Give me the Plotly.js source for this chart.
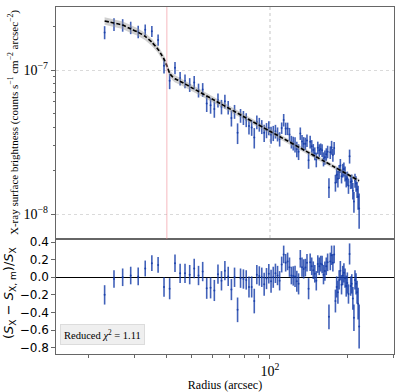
<!DOCTYPE html>
<html>
<head>
<meta charset="utf-8">
<script src="https://cdn.plot.ly/plotly-3.0.1.min.js"></script>
<style>
  body { margin: 0; background: #fff; }
  #chart { width: 402px; height: 392px; }
</style>
</head>
<body>
<div id="chart"></div>
<script>
// radius of each annulus (arcsec)
const radius = [23, 25, 27, 29, 31, 33, 35, 37, 39, 41, 43, 45, 47, 49, 51, 53, 55, 57, 59, 61,
  63, 65, 67, 69, 71, 73, 75, 77, 79, 81, 83, 85, 87, 89, 91, 93, 95, 97, 99, 101,
  103, 105, 107, 109, 111, 113, 115, 117, 119, 121, 123, 125, 127, 129, 131, 133, 135, 137, 139, 141,
  143, 145, 147, 149, 151, 153, 155, 157, 159, 161, 163, 165, 167, 169, 171, 173, 175, 177, 179, 181,
  183, 185, 187, 189, 191, 193, 195, 197, 199, 201, 203, 205, 207, 209, 211, 213, 215, 217, 219, 221];

// surface brightness, units of 1e-8 counts s^-1 cm^-2 arcsec^-2
const sb = [18.25, 20.78, 20.5, 19.69, 18.48, 19.0, 18.57, 16.16, 10.72, 8.41, 10.36, 8.75, 8.38, 7.91, 8.19, 7.24, 7.31, 5.86, 5.69, 5.36,
  6.18, 5.56, 6.07, 5.50, 4.65, 5.15, 3.66, 4.83, 4.67, 4.51, 4.08, 3.99, 3.40, 4.36, 4.19, 4.04, 3.66, 3.82, 3.96, 3.56,
  3.65, 3.75, 3.59, 3.32, 3.96, 4.50, 3.92, 3.92, 3.57, 3.17, 3.10, 3.04, 2.83, 2.71, 3.63, 3.19, 3.08, 3.08, 3.24, 2.36,
  3.17, 2.96, 2.78, 2.63, 2.39, 2.89, 2.77, 2.83, 2.77, 2.41, 2.48, 2.60, 2.71, 1.53, 2.68, 2.90, 2.57, 2.87, 1.65, 1.87,
  1.76, 1.97, 2.17, 1.83, 2.01, 2.05, 1.91, 1.74, 1.77, 1.57, 2.52, 1.67, 1.69, 1.45, 1.22, 1.71, 1.63, 1.48, 1.32, 1.09];

const sbErr = [1.9, 2.1, 2.05, 1.95, 1.85, 1.7, 1.6, 1.45, 1.25, 1.05, 1.0, 0.95, 0.92, 0.87, 0.88, 0.8, 0.8, 0.75, 0.72, 0.7,
  0.68, 0.64, 0.66, 0.6, 0.6, 0.57, 0.6, 0.53, 0.52, 0.5, 0.52, 0.5, 0.55, 0.48, 0.46, 0.45, 0.5, 0.46, 0.44, 0.48,
  0.44, 0.41, 0.4, 0.38, 0.36, 0.45, 0.39, 0.39, 0.39, 0.32, 0.34, 0.37, 0.35, 0.34, 0.36, 0.35, 0.34, 0.31, 0.32, 0.3,
  0.32, 0.3, 0.28, 0.27, 0.28, 0.29, 0.28, 0.26, 0.28, 0.27, 0.28, 0.26, 0.27, 0.24, 0.27, 0.32, 0.26, 0.29, 0.22, 0.23,
  0.23, 0.22, 0.24, 0.2, 0.22, 0.23, 0.23, 0.21, 0.2, 0.19, 0.28, 0.18, 0.19, 0.19, 0.2, 0.19, 0.2, 0.19, 0.25, 0.3];

// fractional residuals (S_X - S_X,m)/S_X
const resid = [-0.20, -0.02, 0.00, 0.02, 0.01, 0.10, 0.16, 0.14, -0.11, -0.13, 0.16, 0.045, 0.045, 0.03, 0.10, 0.02, 0.065, -0.125, -0.12, -0.15,
  0.035, -0.04, 0.075, 0.01, -0.14, 0.00, -0.37, -0.01, -0.02, -0.03, -0.11, -0.11, -0.27, 0.03, 0.015, 0.00, -0.08, -0.015, 0.04, -0.045,
  0.00, 0.045, 0.02, -0.04, 0.145, 0.26, 0.165, 0.18, 0.115, 0.02, 0.015, 0.01, -0.045, -0.075, 0.21, 0.115, 0.095, 0.11, 0.165, -0.13,
  0.17, 0.125, 0.08, 0.04, -0.04, 0.15, 0.125, 0.155, 0.145, 0.03, 0.07, 0.125, 0.17, -0.45, 0.18, 0.25, 0.165, 0.26, -0.27, -0.11,
  -0.17, -0.03, 0.075, -0.085, 0.02, 0.05, -0.01, -0.10, -0.065, -0.19, 0.265, -0.10, -0.075, -0.24, -0.46, -0.03, -0.075, -0.17, -0.30, -0.56];

const residErr = [0.11, 0.10, 0.10, 0.10, 0.10, 0.09, 0.09, 0.09, 0.11, 0.12, 0.10, 0.11, 0.11, 0.11, 0.11, 0.11, 0.11, 0.12, 0.12, 0.12,
  0.11, 0.11, 0.11, 0.11, 0.12, 0.11, 0.14, 0.11, 0.11, 0.11, 0.12, 0.12, 0.14, 0.11, 0.11, 0.11, 0.13, 0.12, 0.11, 0.13,
  0.12, 0.11, 0.11, 0.11, 0.09, 0.10, 0.10, 0.10, 0.11, 0.10, 0.11, 0.12, 0.12, 0.12, 0.10, 0.11, 0.11, 0.10, 0.10, 0.12,
  0.10, 0.10, 0.10, 0.10, 0.11, 0.10, 0.10, 0.09, 0.10, 0.11, 0.11, 0.10, 0.10, 0.14, 0.10, 0.11, 0.10, 0.10, 0.13, 0.12,
  0.13, 0.11, 0.11, 0.11, 0.11, 0.11, 0.11, 0.12, 0.12, 0.11, 0.12, 0.11, 0.11, 0.13, 0.15, 0.11, 0.12, 0.13, 0.18, 0.25];

// best-fit model and its uncertainty band (same units as sb)
const modelR = [23, 25, 27, 29, 31, 33, 35, 37, 38, 39, 40, 41, 42, 43, 45, 50, 60, 80, 100, 150, 221];
const modelS = [21.9, 21.2, 20.5, 19.3, 18.3, 17.1, 15.6, 13.9, 12.9, 11.9, 10.7, 9.5, 9.0, 8.7, 8.36, 7.52, 6.27, 4.70, 3.76, 2.51, 1.70];
const bandLo = [20.6, 19.9, 19.3, 18.1, 17.2, 16.1, 14.7, 13.1, 12.1, 11.2, 10.1, 9.0, 8.5, 8.2, 7.9, 7.15, 5.98, 4.5, 3.62, 2.43, 1.65];
const bandHi = [23.2, 22.5, 21.7, 20.5, 19.4, 18.1, 16.5, 14.7, 13.7, 12.6, 11.3, 10.0, 9.5, 9.2, 8.8, 7.9, 6.56, 4.9, 3.9, 2.59, 1.75];

const breakRadius = 40;
const chi2 = '1.11';

const unit = 1e-8;
const scale = arr => arr.map(v => v * unit);

const serif = 'Liberation Serif, DejaVu Serif, serif';
const sans = 'DejaVu Sans, sans-serif';
const blue = 'rgba(18, 58, 168, 0.8)';
const frame = '#666';
const xRange = [1.174, 2.479];

const traces = [
  {
    x: radius, y: scale(sb),
    error_y: { type: 'data', array: scale(sbErr), color: blue, thickness: 1.6, width: 0 },
    mode: 'markers', type: 'scatter',
    marker: { color: blue, size: 2 },
    xaxis: 'x', yaxis: 'y', hoverinfo: 'skip'
  },
  {
    x: modelR, y: scale(bandLo), mode: 'lines', line: { width: 0 },
    xaxis: 'x', yaxis: 'y', hoverinfo: 'skip'
  },
  {
    x: modelR, y: scale(bandHi), mode: 'lines', line: { width: 0 },
    fill: 'tonexty', fillcolor: 'rgba(150,150,150,0.45)',
    xaxis: 'x', yaxis: 'y', hoverinfo: 'skip'
  },
  {
    x: modelR, y: scale(modelS), mode: 'lines',
    line: { color: 'black', width: 1.6, dash: '4px,2px', shape: 'spline', smoothing: 0.6 },
    xaxis: 'x', yaxis: 'y', hoverinfo: 'skip'
  },
  {
    x: radius, y: resid,
    error_y: { type: 'data', array: residErr, color: blue, thickness: 1.6, width: 0 },
    mode: 'markers', type: 'scatter',
    marker: { color: blue, size: 2 },
    xaxis: 'x2', yaxis: 'y2', hoverinfo: 'skip'
  }
];

const split = 0.3314;

const layout = {
  width: 402, height: 392,
  margin: { l: 56, r: 8, t: 7, b: 38 },
  paper_bgcolor: 'white', plot_bgcolor: 'white',
  showlegend: false,
  xaxis: {
    type: 'log', range: xRange, anchor: 'y', domain: [0, 1],
    showticklabels: false, ticks: '',
    tickvals: [100], showgrid: true, gridcolor: '#e2e2e2', griddash: 'dot', gridwidth: 1.3,
    showline: true, mirror: true, linecolor: frame, linewidth: 1.2, zeroline: false
  },
  yaxis: {
    type: 'log', range: [-8.1736, -6.5625], domain: [split, 1], anchor: 'x',
    tickvals: [1e-8, 1e-7], ticktext: ['10<sup>−8</sup>', '10<sup>−7</sup>'],
    ticks: 'outside', ticklen: 4, tickcolor: frame,
    minor: { tickvals: [2e-8, 3e-8, 4e-8, 5e-8, 6e-8, 7e-8, 8e-8, 9e-8, 2e-7, 3e-7], ticks: 'outside', ticklen: 2, tickcolor: frame },
    tickfont: { family: serif, size: 14, color: 'black' },
    showgrid: true, gridcolor: '#dadada', griddash: 'dot', gridwidth: 1,
    showline: true, mirror: true, linecolor: frame, linewidth: 1.2
  },
  xaxis2: {
    type: 'log', range: xRange, anchor: 'y2', domain: [0, 1],
    tickvals: [100], ticktext: ['10<sup>2</sup>'],
    ticks: 'outside', ticklen: 4, tickcolor: frame,
    minor: { tickvals: [20, 30, 40, 50, 60, 70, 80, 90, 200, 300], ticks: 'outside', ticklen: 2.5, tickcolor: frame },
    tickfont: { family: serif, size: 14, color: 'black' },
    showgrid: false,
    showline: true, mirror: true, linecolor: frame, linewidth: 1.2, zeroline: false,
    title: { text: 'Radius (arcsec)', font: { family: serif, size: 12, color: 'black' }, standoff: 3 }
  },
  yaxis2: {
    range: [-0.872, 0.435], domain: [0, split], anchor: 'x2',
    tickvals: [0.4, 0.2, 0.0, -0.2, -0.4, -0.6, -0.8],
    ticktext: ['0.4', '0.2', '0.0', '−0.2', '−0.4', '−0.6', '−0.8'],
    ticks: 'outside', ticklen: 3.5, tickcolor: frame,
    tickfont: { family: sans, size: 12, color: 'black' },
    showgrid: false, zeroline: true, zerolinecolor: 'black', zerolinewidth: 1.5,
    showline: true, mirror: true, linecolor: frame, linewidth: 1.2
  },
  shapes: [
    {
      type: 'line', xref: 'x', yref: 'y domain',
      x0: breakRadius, x1: breakRadius, y0: 0, y1: 1,
      line: { color: 'rgba(240,140,150,0.6)', width: 1 }
    }
  ],
  annotations: [
    {
      text: 'X-ray surface brightness (counts s<sup>−1</sup> cm<sup>−2</sup> arcsec<sup>−2</sup>)',
      xref: 'paper', yref: 'paper', x: 0, y: (1 + split) / 2,
      xanchor: 'center', yanchor: 'middle', xshift: -43, textangle: -90,
      showarrow: false, font: { family: serif, size: 11, color: 'black' }
    },
    {
      text: '(<i>S</i><sub>X</sub> − <i>S</i><sub>X, m</sub>)/<i>S</i><sub>X</sub>',
      xref: 'paper', yref: 'paper', x: 0, y: split / 2 + 0.01,
      xanchor: 'center', yanchor: 'middle', xshift: -47, textangle: -90,
      showarrow: false, font: { family: sans, size: 13, color: 'black' }
    },
    {
      text: 'Reduced <i>χ</i><sup>2</sup> = ' + chi2,
      xref: 'paper', yref: 'paper', x: 0.012, y: 0.026,
      xanchor: 'left', yanchor: 'bottom',
      showarrow: false, font: { family: serif, size: 10.5, color: 'black' },
      bgcolor: '#efefef', bordercolor: '#dcdcdc', borderwidth: 1, borderpad: 3
    }
  ]
};

Plotly.newPlot('chart', traces, layout, { staticPlot: true, displayModeBar: false });
</script>
</body>
</html>
